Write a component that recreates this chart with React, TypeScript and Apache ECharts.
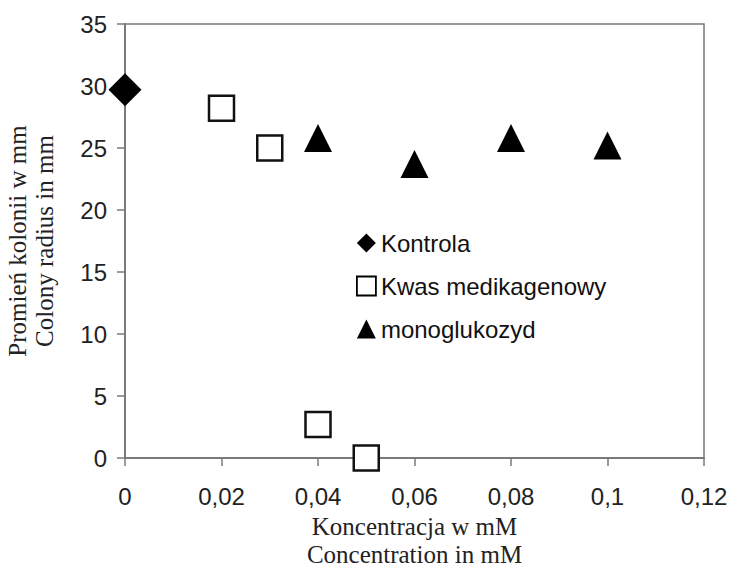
import React, { useEffect, useRef } from "react";
import * as echarts from "echarts";

const kontrola: [number, number][] = [[0, 29.7]];
const kwas: [number, number][] = [
  [0.02, 28.2],
  [0.03, 25.0],
  [0.04, 2.7],
  [0.05, 0],
];
const mono: [number, number][] = [
  [0.04, 25.8],
  [0.06, 23.7],
  [0.08, 25.8],
  [0.1, 25.2],
];
const seriesNames = ["Kontrola", "Kwas medikagenowy", "monoglukozyd"];
const xTitle = "Koncentracja w mM\nConcentration in mM";
const yTitle = "Promień kolonii w mm\nColony radius in mm";

export default function App() {
  const ref = useRef<HTMLDivElement>(null);
  useEffect(() => {
    const chart = echarts.init(ref.current!, undefined, { renderer: "svg" });
    const axisColor = "#7a7a7a";
    const sans = "Liberation Sans, Arial, sans-serif";
    const serif = "Liberation Serif, Times New Roman, serif";
    chart.setOption({
      animation: false,
      backgroundColor: "#ffffff",
      grid: {
        left: 125,
        top: 24,
        right: 27,
        bottom: 110,
        outerBoundsMode: "none",
        containLabel: false,
        show: true,
        borderColor: axisColor,
        borderWidth: 1.5,
      },
      legend: {
        orient: "vertical",
        left: 351,
        top: 226,
        padding: 5,
        itemGap: 19,
        itemWidth: 19,
        itemHeight: 19,
        textStyle: { fontFamily: sans, fontSize: 24, color: "#111" },
        data: [
          { name: seriesNames[0], icon: "diamond", itemStyle: { color: "#000", borderWidth: 0, opacity: 1 } },
          { name: seriesNames[1], icon: "rect", itemStyle: { color: "#fff", borderColor: "#000", borderWidth: 1.8, opacity: 1 } },
          { name: seriesNames[2], icon: "triangle", itemStyle: { color: "#000", borderWidth: 0, opacity: 1 } },
        ],
      },
      xAxis: {
        type: "value",
        min: 0,
        max: 0.12,
        interval: 0.02,
        name: xTitle,
        nameLocation: "middle",
        nameGap: 48,
        nameTextStyle: { fontFamily: serif, fontSize: 25, color: "#222", lineHeight: 28 },
        axisLine: { lineStyle: { color: axisColor, width: 2 } },
        axisTick: { show: true, length: 8, lineStyle: { color: axisColor, width: 1.5 } },
        splitLine: { show: false },
        axisLabel: {
          margin: 26,
          fontFamily: sans,
          fontSize: 24,
          color: "#222",
          formatter: (v: number) => String(Math.round(v * 100) / 100).replace(".", ","),
        },
      },
      yAxis: {
        type: "value",
        min: 0,
        max: 35,
        interval: 5,
        name: yTitle,
        nameLocation: "middle",
        nameGap: 67,
        nameRotate: 90,
        nameTextStyle: { fontFamily: serif, fontSize: 25, color: "#222", lineHeight: 27 },
        axisLine: { show: true, lineStyle: { color: axisColor, width: 2 } },
        axisTick: { show: true, length: 8, lineStyle: { color: axisColor, width: 1.5 } },
        splitLine: { show: false },
        axisLabel: { margin: 18, fontFamily: sans, fontSize: 24, color: "#222" },
      },
      series: [
        {
          name: seriesNames[0],
          type: "scatter",
          data: kontrola,
          symbol: "diamond",
          symbolSize: 33,
          itemStyle: { color: "#000", opacity: 1 },
          z: 5,
        },
        {
          name: seriesNames[1],
          type: "scatter",
          data: kwas,
          symbol: "rect",
          symbolSize: 25,
          itemStyle: { color: "#fff", borderColor: "#111", borderWidth: 2.5, opacity: 1 },
          z: 5,
        },
        {
          name: seriesNames[2],
          type: "scatter",
          data: mono,
          symbol: "triangle",
          symbolSize: 28,
          itemStyle: { color: "#000", opacity: 1 },
          z: 5,
        },
      ],
    });
    return () => chart.dispose();
  }, []);
  return <div ref={ref} style={{ position: "fixed", left: 0, top: 0, width: 731, height: 568 }} />;
}
